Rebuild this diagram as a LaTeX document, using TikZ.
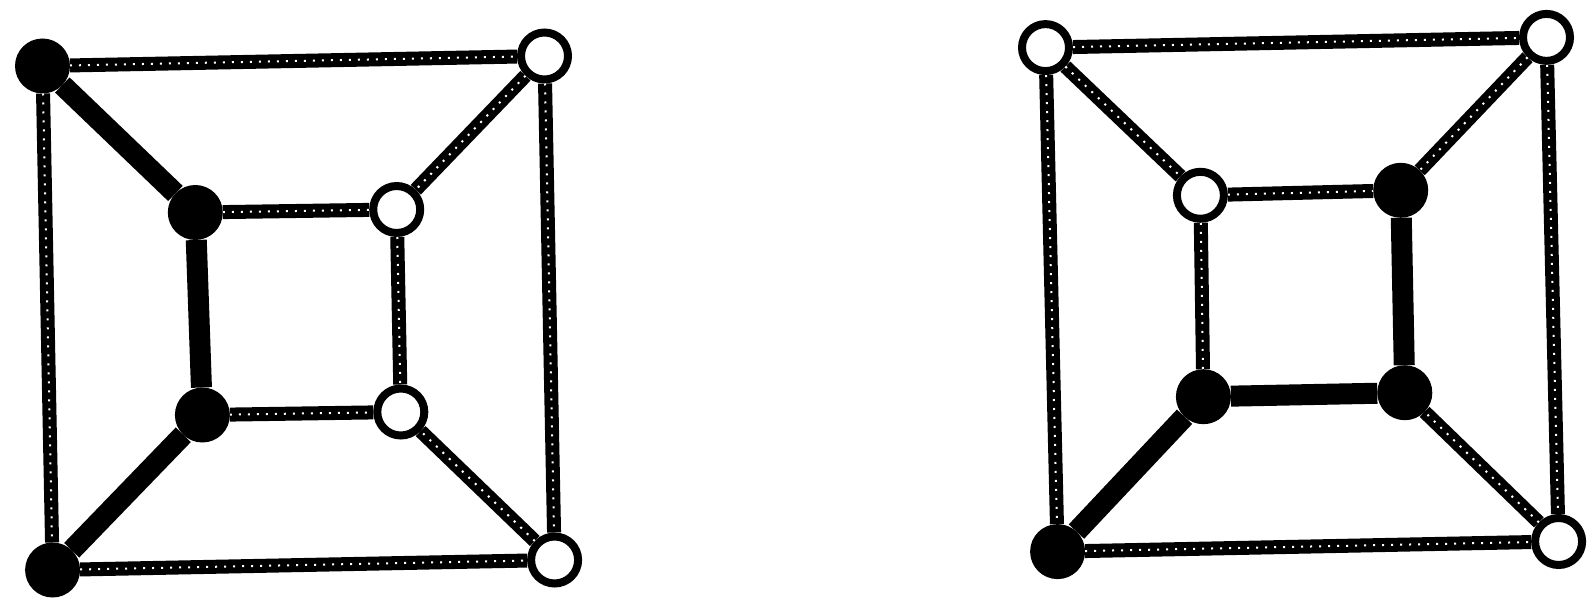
\documentclass[tikz,border=0pt]{standalone}
\begin{document}
\begin{tikzpicture}[x=1pt,y=-1pt,
  bnode/.style={circle,fill=black,inner sep=0pt,minimum size=55pt,outer sep=0pt},
  wnode/.style={circle,draw=black,fill=white,line width=8pt,inner sep=0pt,minimum size=47pt},
  hatched/.style={line width=14pt,black,postaction={draw=white,line width=2pt,dash pattern=on 2pt off 7pt}},
  thickedge/.style={line width=21pt,black}]
\useasboundingbox (0,0) rectangle (1587,599);
% left graph
\node[bnode] (a1) at (42.5,66) {};
\node[wnode] (a2) at (544.5,56) {};
\node[bnode] (a3) at (52.6,570) {};
\node[wnode] (a4) at (554.6,560) {};
\node[bnode] (b1) at (195.3,212.5) {};
\node[wnode] (b2) at (396.7,209.5) {};
\node[bnode] (b3) at (202.4,415) {};
\node[wnode] (b4) at (400.8,412) {};
\draw[hatched] (a1) -- (a2);
\draw[hatched] (a1) -- (a3);
\draw[hatched] (a3) -- (a4);
\draw[hatched] (a2) -- (a4);
\draw[hatched] (b1) -- (b2);
\draw[hatched] (b2) -- (b4);
\draw[hatched] (b3) -- (b4);
\draw[hatched] (a2) -- (b2);
\draw[hatched] (a4) -- (b4);
\draw[thickedge] (a1) -- (b1);
\draw[thickedge] (b1) -- (b3);
\draw[thickedge] (b3) -- (a3);
% right graph
\node[wnode] (c1) at (1045.5,47.6) {};
\node[wnode] (c2) at (1546.5,37.4) {};
\node[bnode] (c3) at (1057.6,551.6) {};
\node[wnode] (c4) at (1558.6,541.5) {};
\node[wnode] (d1) at (1200.4,195.3) {};
\node[bnode] (d2) at (1400.7,190.3) {};
\node[bnode] (d3) at (1203.4,396.7) {};
\node[bnode] (d4) at (1404.8,392.7) {};
\draw[hatched] (c1) -- (c2);
\draw[hatched] (c1) -- (c3);
\draw[hatched] (c3) -- (c4);
\draw[hatched] (c2) -- (c4);
\draw[hatched] (c1) -- (d1);
\draw[hatched] (c2) -- (d2);
\draw[hatched] (c4) -- (d4);
\draw[hatched] (d1) -- (d2);
\draw[hatched] (d1) -- (d3);
\draw[thickedge] (c3) -- (d3);
\draw[thickedge] (d3) -- (d4);
\draw[thickedge] (d4) -- (d2);
\end{tikzpicture}
\end{document}
